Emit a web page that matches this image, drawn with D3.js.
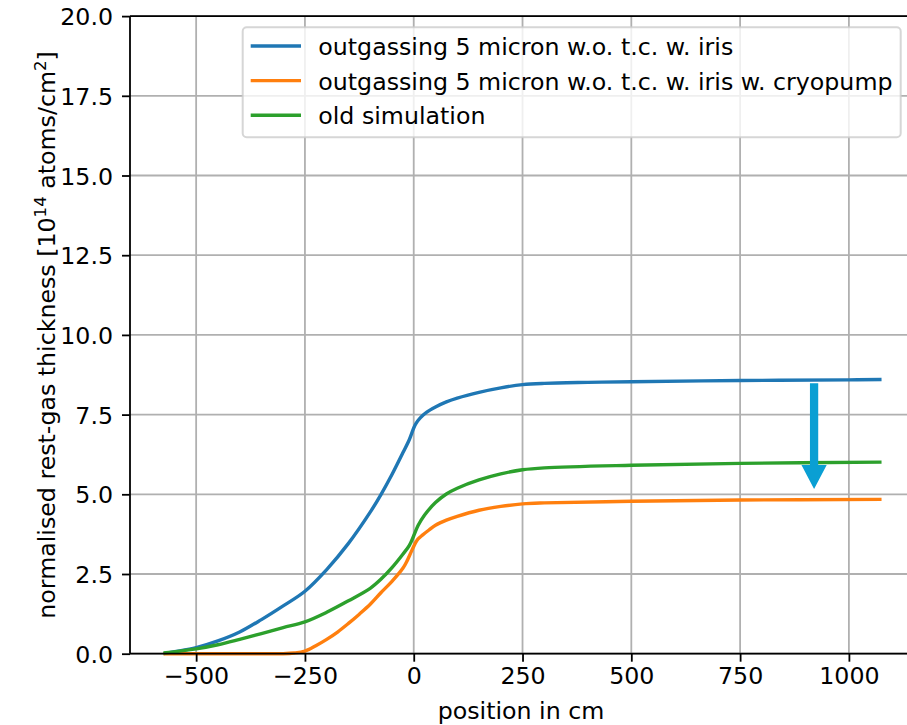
<!DOCTYPE html>
<html>
<head>
<meta charset="utf-8">
<script src="https://cdn.jsdelivr.net/npm/d3@7"></script>
<style>
  html, body { margin: 0; padding: 0; background: #fff; }
  svg { display: block; font-family: "DejaVu Sans", sans-serif; }
</style>
</head>
<body>
<svg id="chart" width="907" height="725"></svg>
<script>
// Sampled positions along the beam line (cm) and rest-gas thickness (1e14 atoms/cm^2)
const bluePos = [-575, -550, -500, -450, -400, -350, -300, -250, -200, -150, -100, -75, -50, -25, -10, 0, 5, 15, 30, 50, 75, 100, 150, 200, 250, 300, 400, 500, 750, 1000, 1075];
const blueVal = [0.0, 0.06, 0.19, 0.40, 0.68, 1.07, 1.50, 1.96, 2.64, 3.46, 4.44, 5.0, 5.62, 6.3, 6.72, 7.08, 7.22, 7.40, 7.58, 7.74, 7.90, 8.02, 8.20, 8.34, 8.44, 8.48, 8.51, 8.53, 8.57, 8.59, 8.60];

const orangePos = [-575, -500, -400, -300, -275, -250, -225, -200, -175, -150, -125, -100, -75, -50, -25, -15, -5, 5, 10, 20, 35, 50, 75, 100, 150, 200, 250, 300, 500, 750, 1075];
const orangeVal = [0.0, 0.0, 0.0, 0.0, 0.02, 0.08, 0.25, 0.45, 0.68, 0.95, 1.24, 1.55, 1.92, 2.27, 2.68, 2.92, 3.22, 3.50, 3.60, 3.72, 3.88, 4.03, 4.19, 4.31, 4.50, 4.62, 4.70, 4.73, 4.78, 4.82, 4.84];

const greenPos = [-575, -500, -450, -400, -350, -300, -250, -200, -150, -100, -75, -50, -25, -10, 0, 10, 25, 50, 75, 100, 150, 200, 250, 300, 500, 750, 1075];
const greenVal = [0.02, 0.15, 0.28, 0.45, 0.63, 0.82, 1.00, 1.30, 1.66, 2.05, 2.34, 2.70, 3.12, 3.40, 3.70, 4.02, 4.35, 4.74, 5.01, 5.19, 5.45, 5.64, 5.77, 5.83, 5.91, 5.97, 6.01];

const seriesNames = [
  "outgassing 5 micron w.o. t.c. w. iris",
  "outgassing 5 micron w.o. t.c. w. iris w. cryopump",
  "old simulation"
];
const seriesColors = ["#1f77b4", "#ff7f0e", "#2ca02c"];

const xTicks = [-500, -250, 0, 250, 500, 750, 1000];
const yTicks = [0, 2.5, 5, 7.5, 10, 12.5, 15, 17.5, 20];

// Downward arrow annotation (x in cm, y in thickness units)
const arrowX = 920, arrowFrom = 8.48, arrowTo = 5.17;
const arrowHeadLen = 0.75, arrowShaftW = 19, arrowHeadW = 58;
const arrowColor = "#0a9fd3";

const FS = 23.7;
const plotLeft = 130, plotRight = 912, plotTop = 16.1, plotBottom = 653.7;

const x = d3.scaleLinear().domain([-652, 1145]).range([plotLeft, plotRight]);
const y = d3.scaleLinear().domain([0, 20]).range([plotBottom, plotTop]);

const svg = d3.select("#chart");

// grid
const grid = svg.append("g").attr("stroke", "#b0b0b0").attr("stroke-width", 1.8);
xTicks.forEach(t => grid.append("line").attr("x1", x(t)).attr("x2", x(t)).attr("y1", plotTop).attr("y2", plotBottom));
yTicks.forEach(t => grid.append("line").attr("x1", plotLeft).attr("x2", plotRight).attr("y1", y(t)).attr("y2", y(t)));

// curves
const line = d3.line().x(d => x(d[0])).y(d => y(d[1])).curve(d3.curveCatmullRom.alpha(0.5));
const series = [
  d3.zip(bluePos, blueVal),
  d3.zip(orangePos, orangeVal),
  d3.zip(greenPos, greenVal)
];
series.forEach((s, i) => {
  svg.append("path").datum(s).attr("d", line)
    .attr("fill", "none").attr("stroke", seriesColors[i])
    .attr("stroke-width", 3.4).attr("stroke-linejoin", "round").attr("stroke-linecap", "butt");
});

// arrow
const ax = x(arrowX);
const hs = (x(arrowX + arrowShaftW / 2) - ax);
const hh = (x(arrowX + arrowHeadW / 2) - ax);
const yTop = y(arrowFrom), yBase = y(arrowTo + arrowHeadLen), yTip = y(arrowTo);
svg.append("path")
  .attr("d", `M${ax - hs},${yTop} L${ax + hs},${yTop} L${ax + hs},${yBase} L${ax + hh},${yBase} L${ax},${yTip} L${ax - hh},${yBase} L${ax - hs},${yBase} Z`)
  .attr("fill", arrowColor);

// axes
const xAxis = d3.axisBottom(x).tickValues(xTicks).tickSize(8).tickPadding(6)
  .tickFormat(d => d < 0 ? "\u2212" + Math.abs(d) : String(d));
const yAxis = d3.axisLeft(y).tickValues(yTicks).tickSize(8).tickPadding(9)
  .tickFormat(d3.format(".1f"));

const gx = svg.append("g").attr("transform", `translate(0,${plotBottom})`).call(xAxis);
const gy = svg.append("g").attr("transform", `translate(${plotLeft},0)`).call(yAxis);
[gx, gy].forEach(g => {
  g.select(".domain").remove();
  g.selectAll(".tick line").attr("stroke", "#000").attr("stroke-width", 1.8);
  g.selectAll(".tick text").attr("fill", "#000").style("font-size", FS + "px")
    .style("font-family", "'DejaVu Sans', sans-serif");
});
gy.selectAll(".tick text").attr("dy", "0.36em");
gx.selectAll(".tick text").attr("dy", "0.7em");

// spines
const sp = svg.append("g").attr("stroke", "#000").attr("stroke-width", 1.8).attr("fill", "none");
sp.append("line").attr("x1", plotLeft).attr("x2", plotLeft).attr("y1", plotTop).attr("y2", plotBottom);
sp.append("line").attr("x1", plotLeft).attr("x2", plotRight).attr("y1", plotBottom).attr("y2", plotBottom);
sp.append("line").attr("x1", plotLeft).attr("x2", plotRight).attr("y1", plotTop).attr("y2", plotTop);
sp.append("line").attr("x1", plotRight).attr("x2", plotRight).attr("y1", plotTop).attr("y2", plotBottom);

// axis labels
svg.append("text").attr("x", (plotLeft + plotRight) / 2).attr("y", 719)
  .attr("text-anchor", "middle").style("font-size", FS + "px").text("position in cm");

const yl = svg.append("text").attr("transform", `translate(55,${(plotTop + plotBottom) / 2}) rotate(-90)`)
  .attr("text-anchor", "middle").style("font-size", FS + "px");
yl.append("tspan").text("normalised rest-gas thickness [10");
yl.append("tspan").attr("dy", -9).style("font-size", (FS * 0.7) + "px").text("14");
yl.append("tspan").attr("dy", 9).text(" atoms/cm");
yl.append("tspan").attr("dy", -9).style("font-size", (FS * 0.7) + "px").text("2");
yl.append("tspan").attr("dy", 9).text("]");

// legend
const lg = svg.append("g");
lg.append("rect").attr("x", 242.7).attr("y", 27.3).attr("width", 658).attr("height", 110)
  .attr("rx", 4).attr("fill", "#fff").attr("fill-opacity", 0.8)
  .attr("stroke", "#cccccc").attr("stroke-opacity", 0.8).attr("stroke-width", 2);
seriesNames.forEach((name, i) => {
  const cy = 46 + i * 34.6;
  lg.append("line").attr("x1", 250.7).attr("x2", 301).attr("y1", cy).attr("y2", cy)
    .attr("stroke", seriesColors[i]).attr("stroke-width", 3.4);
  lg.append("text").attr("x", 318.3).attr("y", cy + 9).style("font-size", FS + "px").text(name);
});
</script>
</body>
</html>
